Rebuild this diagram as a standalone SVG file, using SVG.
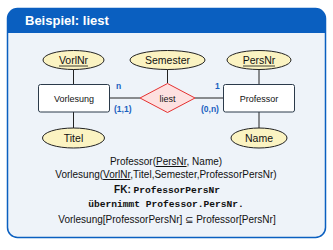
<svg xmlns="http://www.w3.org/2000/svg" width="333" height="250" viewBox="0 0 333 250">
<style>
text{font-family:"Liberation Sans","DejaVu Sans",sans-serif;fill:#111}
.ent{fill:#fff;stroke:#2b3a4a;stroke-width:1}
.att{fill:#fbf3c2;stroke:#222;stroke-width:1}
.rel{fill:#fde0e0;stroke:#e53030;stroke-width:1}
.ln{stroke:#222;stroke-width:1;fill:none}
.nt{font-size:9px;text-anchor:middle}
.at{font-size:10.5px;text-anchor:middle}
.card{font-size:8.5px;font-weight:bold;fill:#1a5fc0}
.rm{font-size:10px;text-anchor:middle}
.mono{font-family:"Liberation Mono","DejaVu Sans Mono",monospace;font-weight:bold}
</style>
<rect x="7.5" y="8.5" width="318" height="229" rx="10" fill="#eef3f9" stroke="#0a5fc0" stroke-width="1.5"/>
<path d="M7.5,33 V18.5 a10,10 0 0 1 10,-10 H315.5 a10,10 0 0 1 10,10 V33 Z" fill="#0a5fc0"/>
<text x="25" y="25" font-size="13" font-weight="bold" style="fill:#fff">Beispiel: liest</text>
<g id="connectors">
<line class="ln" x1="73.5" y1="69" x2="73.5" y2="84"/>
<line class="ln" x1="73.5" y1="112" x2="73.5" y2="128"/>
<line class="ln" x1="167.5" y1="69" x2="167.5" y2="83"/>
<line class="ln" x1="259" y1="69" x2="259" y2="84"/>
<line class="ln" x1="259" y1="112" x2="259" y2="128"/>
<line class="ln" x1="109" y1="98" x2="140" y2="98"/>
<line class="ln" x1="195" y1="98" x2="223" y2="98"/>
</g>
<g id="vorlnr"><ellipse class="att" cx="73.5" cy="60" rx="30.5" ry="9.5"/><text class="at" x="73.5" y="64">VorlNr</text><line x1="59" y1="66" x2="88" y2="66" stroke="#111" stroke-width="0.8"/></g>
<g id="semester"><ellipse class="att" cx="167.5" cy="60" rx="37.5" ry="9.5"/><text class="at" x="167.5" y="64">Semester</text></g>
<g id="persnr"><ellipse class="att" cx="259" cy="60" rx="32" ry="9.5"/><text class="at" x="259" y="64">PersNr</text><line x1="243" y1="66" x2="275" y2="66" stroke="#111" stroke-width="0.8"/></g>
<g id="vorlesung"><rect class="ent" x="38.5" y="84.5" width="71" height="27.5" rx="2"/><text class="nt" x="74" y="101.5">Vorlesung</text></g>
<g id="liest"><polygon class="rel" points="140,98 167.5,83.5 195,98 167.5,112.5"/><text class="nt" x="167.5" y="101.5">liest</text></g>
<g id="professor"><rect class="ent" x="223.5" y="84.5" width="71" height="27.5" rx="2"/><text class="nt" x="259" y="101.5">Professor</text></g>
<g id="titel"><ellipse class="att" cx="73.5" cy="138" rx="31" ry="10"/><text class="at" x="73.5" y="142">Titel</text></g>
<g id="name"><ellipse class="att" cx="259" cy="138" rx="28" ry="10"/><text class="at" x="259" y="142">Name</text></g>
<text class="card" x="116" y="89">n</text>
<text class="card" x="114" y="112">(1,1)</text>
<text class="card" x="215" y="89">1</text>
<text class="card" x="201" y="112">(0,n)</text>
<text class="rm" x="166" y="165">Professor(<tspan text-decoration="underline">PersNr</tspan>, Name)</text>
<text class="rm" x="166" y="178">Vorlesung(<tspan text-decoration="underline">VorlNr</tspan>,Titel,Semester,ProfessorPersNr)</text>
<text class="rm" x="167" y="193"><tspan font-weight="bold">FK:</tspan> <tspan class="mono" font-size="9.6">ProfessorPersNr</tspan></text>
<text class="rm" x="166" y="207"><tspan class="mono" font-size="9.6">übernimmt Professor.PersNr.</tspan></text>
<text class="rm" x="167" y="223">Vorlesung[ProfessorPersNr] ⊆ Professor[PersNr]</text>
</svg>
